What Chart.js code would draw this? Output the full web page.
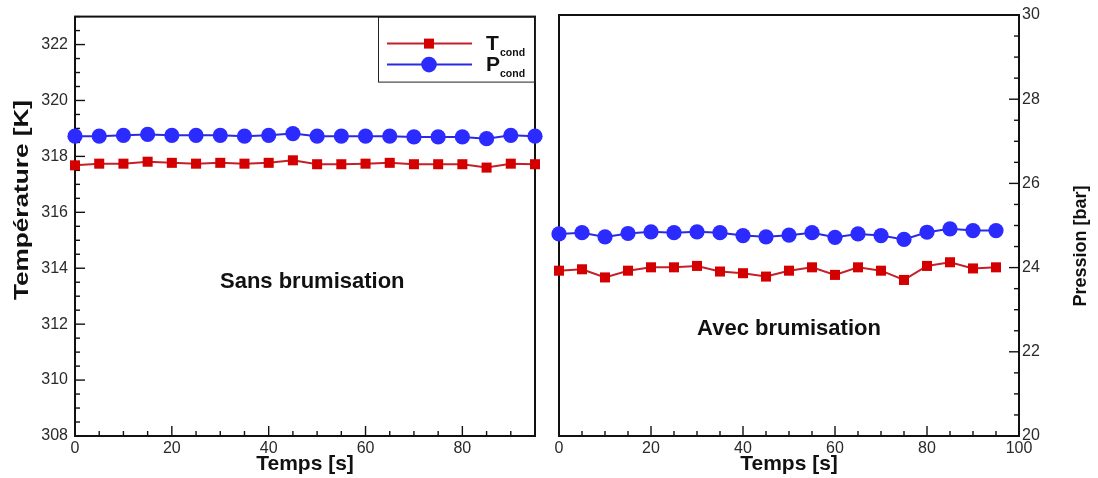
<!DOCTYPE html>
<html><head><meta charset="utf-8">
<script src="https://cdn.jsdelivr.net/npm/chart.js@4/dist/chart.umd.min.js"></script>
<style>
html,body{margin:0;padding:0;background:#fff;}
#wrap{position:relative;width:1098px;height:478px;overflow:hidden;background:#fff;}
canvas{position:absolute;top:0;}
#c1{left:0;width:549px;height:478px;}
#c2{left:547px;width:551px;height:478px;}
</style></head><body>
<div id="wrap"><canvas id="c1" width="549" height="478"></canvas><canvas id="c2" width="551" height="478"></canvas></div>
<script>
// ---- data ----
const time = [0,5,10,15,20,25,30,35,40,45,50,55,60,65,70,75,80,85,90,95];
const tempSans = [317.68,317.74,317.74,317.81,317.77,317.74,317.77,317.74,317.77,317.86,317.72,317.72,317.74,317.77,317.72,317.72,317.72,317.60,317.74,317.72];
const presSans = [27.15,27.15,27.17,27.19,27.17,27.17,27.17,27.15,27.17,27.21,27.15,27.15,27.15,27.15,27.13,27.13,27.13,27.09,27.17,27.15];
const tempAvec = [313.89,313.94,313.65,313.89,314.01,314.01,314.06,313.86,313.80,313.68,313.89,314.01,313.74,314.01,313.89,313.56,314.06,314.19,313.97,314.01];
const presAvec = [24.80,24.83,24.73,24.81,24.85,24.83,24.85,24.83,24.76,24.73,24.77,24.83,24.72,24.80,24.76,24.67,24.84,24.92,24.88,24.88];
const tempTicks = [308,310,312,314,316,318,320,322];
const presTicks = [20,22,24,26,28,30];
const timeTicksSans = [0,20,40,60,80];
const timeTicksAvec = [0,20,40,60,80,100];
const seriesNames = ['T','P'];
const seriesSub = 'cond';
const panelNotes = ['Sans brumisation','Avec brumisation'];
const axisTitles = {temp:'Température [K]', pres:'Pression [bar]', time:'Temps [s]'};

// ---- styling ----
const FONT = '"Liberation Sans", Arial, Helvetica, sans-serif';
const RED_LINE = '#c4202a', RED_PT = '#d40000';
const BLUE_LINE = '#2a2ae0', BLUE_PT = '#2b2bff';

function lineSeg(ctx,x1,y1,x2,y2){ctx.beginPath();ctx.moveTo(x1,y1);ctx.lineTo(x2,y2);ctx.stroke();}

function vText(ctx, text, x, y, font, targetLen){
  ctx.save();
  ctx.font = font;
  const w = ctx.measureText(text).width;
  const s = targetLen ? targetLen / w : 1;
  ctx.translate(x, y);
  ctx.rotate(-Math.PI/2);
  ctx.scale(s, 1);
  ctx.textAlign = 'center';
  ctx.textBaseline = 'middle';
  ctx.fillStyle = '#111';
  ctx.fillText(text, 0, 0);
  ctx.restore();
}

const decorPlugin = {
  id: 'decor',
  beforeDatasetsDraw(chart, args, o) {
    const ctx = chart.ctx, a = chart.chartArea;
    ctx.save();
    ctx.strokeStyle = '#111';
    ctx.lineWidth = 2;
    ctx.strokeRect(a.left, a.top, a.right - a.left, a.bottom - a.top);
    ctx.lineWidth = 1.4;
    const xs = chart.scales.x;
    for (let v = xs.min; v <= xs.max + 1e-6; v += 5) {
      const px = xs.getPixelForValue(v);
      const len = (Math.abs(v % 20) < 1e-6) ? 10 : 5;
      lineSeg(ctx, px, a.bottom, px, a.bottom - len);
    }
    const ys = chart.scales[o.yAxis];
    for (let v = ys.min; v <= ys.max + 1e-6; v += 0.5) {
      const py = ys.getPixelForValue(v);
      const len = (Math.abs(v % 2) < 1e-6) ? 10 : 5;
      if (o.ySide === 'left') lineSeg(ctx, a.left, py, a.left + len, py);
      else lineSeg(ctx, a.right, py, a.right - len, py);
    }
    ctx.restore();
  },
  afterDraw(chart, args, o) {
    const ctx = chart.ctx, a = chart.chartArea;
    const off = o.offset;
    ctx.save();
    // note text
    const nx = chart.scales.x.getPixelForValue(o.note.x);
    const ny = chart.scales.yT.getPixelForValue(o.note.y);
    ctx.font = 'bold 22px ' + FONT;
    ctx.fillStyle = '#111';
    ctx.textAlign = 'center';
    ctx.textBaseline = 'middle';
    ctx.fillText(o.note.text, nx, ny);
    // x title
    ctx.font = 'bold 21px ' + FONT;
    ctx.fillText(axisTitles.time, (a.left + a.right) / 2, 464);
    // y title
    if (o.yTitle) vText(ctx, o.yTitle.text, o.yTitle.x - off, o.yTitle.y, o.yTitle.font, o.yTitle.len);
    // legend
    if (o.legend) {
      const L = o.legend;
      ctx.strokeStyle = '#222';
      ctx.lineWidth = 1;
      ctx.strokeRect(L.x + 0.5, a.top + 0.5, a.right - L.x, L.h);
      const rows = [
        {y: a.top + 27, line: RED_LINE, pt: RED_PT, shape: 'rect', name: seriesNames[0]},
        {y: a.top + 48, line: BLUE_LINE, pt: BLUE_PT, shape: 'circle', name: seriesNames[1]}
      ];
      rows.forEach(r => {
        ctx.strokeStyle = r.line; ctx.lineWidth = 2;
        lineSeg(ctx, L.x + 9, r.y, L.x + 94, r.y);
        ctx.fillStyle = r.pt;
        if (r.shape === 'rect') ctx.fillRect(L.x + 51 - 5, r.y - 5, 10, 10);
        else { ctx.beginPath(); ctx.arc(L.x + 51, r.y, 7.8, 0, Math.PI*2); ctx.fill(); }
        ctx.fillStyle = '#111';
        ctx.textAlign = 'left'; ctx.textBaseline = 'alphabetic';
        ctx.font = 'bold 21px ' + FONT;
        ctx.fillText(r.name, L.x + 108, r.y + 6);
        ctx.font = 'bold 10.5px ' + FONT;
        ctx.fillText(seriesSub, L.x + 122, r.y + 12);
      });
    }
    ctx.restore();
  }
};

function tickFixer(list){ return function(scale){ scale.ticks = list.map(v => ({value: v})); }; }

function makeChart(canvas, cfg) {
  const tickFont = {family: FONT, size: 16};
  return new Chart(canvas, {
    type: 'line',
    data: {
      datasets: [
        {label: seriesNames[0] + seriesSub, data: time.map((t,i)=>({x:t, y:cfg.temp[i]})), yAxisID: 'yT',
         borderColor: RED_LINE, borderWidth: 2, pointStyle: 'rect', pointRadius: 7.1, pointHoverRadius: 7.1,
         pointBackgroundColor: RED_PT, pointBorderColor: RED_PT, pointBorderWidth: 0, clip: false, tension: 0},
        {label: seriesNames[1] + seriesSub, data: time.map((t,i)=>({x:t, y:cfg.pres[i]})), yAxisID: 'yP',
         borderColor: BLUE_LINE, borderWidth: 2, pointStyle: 'circle', pointRadius: 7.6, pointHoverRadius: 7.6,
         pointBackgroundColor: BLUE_PT, pointBorderColor: BLUE_PT, pointBorderWidth: 0, clip: false, tension: 0}
      ]
    },
    options: {
      responsive: false, animation: false, devicePixelRatio: 1,
      layout: {padding: cfg.padding},
      plugins: {legend: {display: false}, tooltip: {enabled: false}, decor: cfg.decor},
      scales: {
        x: {type: 'linear', position: 'bottom', min: 0, max: cfg.xMax,
            afterBuildTicks: tickFixer(cfg.xTicks),
            afterFit: s => { s.height = 42; },
            grid: {display: false, drawTicks: false}, border: {display: false},
            ticks: {font: tickFont, color: '#2a2a2a', padding: 3, autoSkip: false, maxRotation: 0}},
        yT: {type: 'linear', position: 'left', min: 308, max: 323, display: cfg.showT,
            afterBuildTicks: tickFixer(tempTicks),
            afterFit: s => { s.width = cfg.showT ? 75 : 0; },
            grid: {display: false, drawTicks: false}, border: {display: false},
            ticks: {font: tickFont, color: '#2a2a2a', padding: 7, autoSkip: false}},
        yP: {type: 'linear', position: 'right', min: 20, max: 30, display: cfg.showP,
            afterBuildTicks: tickFixer(presTicks),
            afterFit: s => { s.width = cfg.showP ? 79 : 0; },
            grid: {display: false, drawTicks: false}, border: {display: false},
            ticks: {font: tickFont, color: '#2a2a2a', padding: 3, autoSkip: false}}
      }
    },
    plugins: [decorPlugin]
  });
}

makeChart(document.getElementById('c1'), {
  temp: tempSans, pres: presSans, xMax: 95, xTicks: timeTicksSans, showT: true, showP: false,
  padding: {left: 0, right: 14, top: 15, bottom: 0},
  decor: {offset: 0, yAxis: 'yT', ySide: 'left',
          note: {text: panelNotes[0], x: 49, y: 313.5},
          yTitle: {text: axisTitles.temp, x: 22, y: 200, len: 200, font: 'bold 21px ' + FONT},
          legend: {x: 378, h: 65}}
});
makeChart(document.getElementById('c2'), {
  temp: tempAvec, pres: presAvec, xMax: 100, xTicks: timeTicksAvec, showT: false, showP: true,
  padding: {left: 12, right: 0, top: 15, bottom: 0},
  decor: {offset: 547, yAxis: 'yP', ySide: 'right',
          note: {text: panelNotes[1], x: 50, y: 311.8},
          yTitle: {text: axisTitles.pres, x: 1081, y: 246, len: null, font: 'bold 18px ' + FONT}}
});
</script>
</body></html>
